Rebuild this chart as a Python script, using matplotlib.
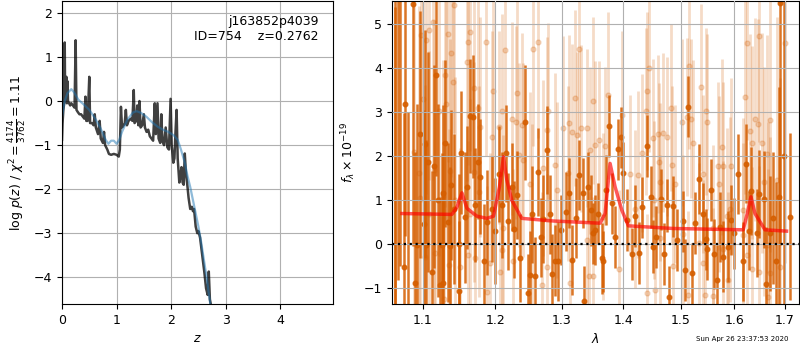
import numpy as np
import matplotlib
matplotlib.use('Agg')
import matplotlib.pyplot as plt
from matplotlib.ticker import NullLocator, FixedLocator, FixedFormatter

plt.rcParams['font.size'] = 9

# --- redshift probability curve (left panel)
z_pz = [0.0, 0.01, 0.025, 0.04, 0.05, 0.058, 0.07, 0.08, 0.09, 0.10,
        0.11, 0.13, 0.15, 0.17, 0.20, 0.23, 0.25, 0.265, 0.29, 0.32,
        0.35, 0.38, 0.41, 0.43, 0.445, 0.47, 0.50, 0.515, 0.55, 0.58,
        0.60, 0.62, 0.66, 0.69, 0.71, 0.75, 0.77, 0.79, 0.83, 0.86,
        0.90, 0.95, 1.00, 1.04, 1.06, 1.08, 1.10, 1.13, 1.15, 1.17,
        1.19, 1.22, 1.26, 1.29, 1.315, 1.33, 1.36, 1.38, 1.40, 1.42,
        1.44, 1.47, 1.50, 1.52, 1.55, 1.58, 1.61, 1.64, 1.67, 1.70,
        1.72, 1.75, 1.77, 1.80, 1.82, 1.84, 1.87, 1.90, 1.93, 1.96,
        1.99, 2.01, 2.04, 2.06, 2.08, 2.10, 2.12, 2.15, 2.17, 2.19,
        2.21, 2.23, 2.25, 2.27, 2.30, 2.32, 2.35, 2.38, 2.40, 2.42,
        2.45, 2.48, 2.50, 2.53, 2.55, 2.58, 2.61, 2.64, 2.67, 2.69,
        2.71, 2.74]
logpz = [-0.88, -0.5, -0.2, -0.05, 1.33, 0.0, 0.15, 0.55, -0.05, 0.45,
         0.0, -0.05, -0.1, -0.05, -0.1, -0.15, 1.38, -0.2, -0.25, -0.3,
         -0.3, -0.35, -0.4, 0.1, -0.45, -0.45, 0.55, -0.5, -0.5, -0.55,
         -0.3, -0.6, -0.75, -0.45, -0.85, -0.95, -0.7, -1.0, -1.1, -1.2,
         -1.22, -1.2, -1.22, -1.26, -1.1, -0.13, -0.6, -0.55, -0.5, -0.2,
         -0.55, -0.45, -0.4, -0.45, 0.25, -0.5, -0.45, -0.1, -0.55, 0.0,
         -0.6, -0.55, -0.3, -0.6, -0.7, -0.65, -0.8, -0.85, -0.9, -0.05,
         -0.75, -0.05, -0.85, -0.95, -0.3, -0.9, -1.0, -0.6, -1.05, -1.1,
         0.05, -1.0, -1.4, -1.3, -0.7, -0.2, -1.3, -1.85, -1.7, -1.5,
         -1.85, -1.9, -1.19, -1.6, -1.95, -2.2, -2.45, -2.4, -2.5, -2.45,
         -2.85, -3.0, -2.95, -3.1, -3.3, -3.6, -3.9, -4.25, -4.4, -3.87,
         -4.5, -4.7]

z_smooth = [0.0, 0.05, 0.10, 0.17, 0.22, 0.30, 0.40, 0.50, 0.60, 0.70,
            0.80, 0.85, 0.90, 0.95, 1.00, 1.05, 1.10, 1.20, 1.30, 1.37,
            1.45, 1.55, 1.65, 1.75, 1.85, 1.95, 2.05, 2.12, 2.18, 2.25,
            2.30, 2.35, 2.40, 2.45, 2.50, 2.55, 2.60, 2.65, 2.70, 2.74]
logpz_smooth = [-0.35, 0.0, 0.18, 0.27, 0.2, 0.03, -0.08, -0.2, -0.38, -0.6,
                -0.88, -0.97, -0.9, -0.9, -0.97, -0.88, -0.7, -0.42, -0.26, -0.23,
                -0.27, -0.36, -0.48, -0.58, -0.65, -0.7, -0.78, -0.88, -1.1, -1.4,
                -1.7, -1.95, -2.25, -2.55, -2.85, -3.2, -3.6, -4.0, -4.45, -4.8]

# --- spectrum (right panel), dark = first beam, light = second beam
dark_wave = [1.0630, 1.0640, 1.0680, 1.0700, 1.0747, 1.0760, 1.0800, 1.0866, 1.0900, 1.0923,
             1.0960, 1.1010, 1.1030, 1.1043, 1.1070, 1.1119, 1.1143, 1.1169, 1.1200, 1.1231,
             1.1253, 1.1266, 1.1273, 1.1302, 1.1340, 1.1367, 1.1376, 1.1420, 1.1481, 1.1490,
             1.1518, 1.1564, 1.1600, 1.1644, 1.1676, 1.1710, 1.1747, 1.1785, 1.1833, 1.1880,
             1.1952, 1.2000, 1.2054, 1.2100, 1.2153, 1.2186, 1.2242, 1.2278, 1.2312, 1.2363,
             1.2444, 1.2478, 1.2514, 1.2549, 1.2584, 1.2637, 1.2675, 1.2715, 1.2768, 1.2818,
             1.2845, 1.2894, 1.2947, 1.2983, 1.3067, 1.3113, 1.3156, 1.3220, 1.3278, 1.3332,
             1.3356, 1.3415, 1.3468, 1.3495, 1.3530, 1.3584, 1.3638, 1.3665, 1.3710, 1.3759,
             1.3804, 1.3859, 1.3914, 1.3953, 1.3998, 1.4054, 1.4139, 1.4196, 1.4270, 1.4321,
             1.4408, 1.4466, 1.4512, 1.4559, 1.4640, 1.4698, 1.4746, 1.4794, 1.4853, 1.4937,
             1.5033, 1.5076, 1.5136, 1.5197, 1.5258, 1.5338, 1.5399, 1.5461, 1.5486, 1.5547,
             1.5610, 1.5660, 1.5720, 1.5787, 1.5882, 1.5926, 1.5990, 1.6073, 1.6157, 1.6222,
             1.6287, 1.6332, 1.6431, 1.6483, 1.6576, 1.6620, 1.6696, 1.6763, 1.6830, 1.6884,
             1.6912, 1.6980, 1.7102]
dark_flux = [5.9, -1.6, 6.2, 6.0, -0.51, 3.20, -2.0, 5.46, -0.89, -0.02,
             2.5, 0.46, 2.28, -0.02, 1.88, -0.64, 1.77, 3.85, 1.0, -0.92,
             -0.02, -0.89, 1.16, 2.30, 0.5, -0.04, 1.35, 0.8, 0.00, -1.06,
             2.08, 0.61, 1.3, 2.92, 2.90, 0.9, 1.88, 1.54, -0.39, 0.5,
             0.80, 0.3, 1.60, 0.9, 2.07, 0.52, 1.31, 0.34, 1.12, -0.30,
             2.77, -1.11, -0.70, 0.68, -0.73, 1.64, 0.16, 0.57, 2.14, 0.68,
             -0.67, -0.37, -0.39, 0.33, 0.74, 1.17, -0.36, 0.6, 1.58, 1.16,
             -1.29, 1.30, 0.77, 0.25, 0.33, 0.70, -0.32, -0.39, 1.23, 2.69,
             0.93, 0.17, 2.16, 2.43, 1.63, 0.55, -0.22, 0.64, -0.20, 0.84,
             2.23, 1.07, -0.05, 0.16, 1.02, -0.22, 0.89, -1.19, 0.86, 0.10,
             0.52, -0.58, 3.13, -0.66, 0.48, 1.48, 0.70, 0.11, -0.11, 1.23,
             -0.22, -0.81, 0.4, -0.28, -0.05, 0.55, 0.25, 1.60, -0.39, 1.83,
             0.31, 1.22, 0.25, 1.14, 1.02, -0.9, 0.25, 0.59, -0.39, 1.07,
             5.49, 2.0, 0.63]
dark_err = [8.0, 7.0, 7.0, 6.5, 3.5, 3.0, 5.0, 5.5, 3.0, 3.2,
            2.8, 2.6, 2.6, 2.4, 2.5, 2.3, 2.3, 2.3, 2.2, 2.0,
            2.1, 2.0, 2.0, 1.9, 1.8, 1.8, 1.7, 1.7, 1.6, 1.6,
            1.4, 1.5, 1.4, 1.3, 1.4, 1.3, 1.3, 1.3, 1.3, 1.2,
            1.2, 1.2, 1.1, 1.2, 1.1, 1.1, 1.0, 1.1, 1.0, 1.0,
            1.3, 0.9, 1.0, 1.1, 0.9, 1.0, 0.9, 1.0, 1.0, 0.9,
            0.9, 0.8, 0.9, 0.8, 0.9, 0.8, 0.8, 0.9, 0.8, 0.8,
            0.8, 0.8, 0.8, 0.7, 0.8, 0.7, 0.8, 0.7, 0.8, 0.7,
            0.7, 0.7, 0.7, 0.7, 0.7, 0.7, 0.6, 0.7, 0.7, 0.7,
            0.7, 0.7, 0.6, 0.7, 0.7, 0.7, 0.6, 0.7, 0.7, 0.7,
            0.7, 0.7, 0.7, 0.7, 0.7, 0.8, 0.7, 0.7, 0.7, 0.7,
            0.8, 0.8, 0.8, 0.8, 0.8, 0.8, 0.8, 0.9, 0.9, 0.9,
            0.9, 1.0, 1.0, 1.0, 1.1, 1.3, 1.3, 1.5, 1.8, 2.5,
            5.5, 5.0, 1.9]

light_wave = [1.0876, 1.0942, 1.0955, 1.0974, 1.0995, 1.1031, 1.1044, 1.1074, 1.1084, 1.1128,
              1.1142, 1.1164, 1.1209, 1.1263, 1.1276, 1.1299, 1.1308, 1.1330, 1.1344, 1.1367,
              1.1380, 1.1404, 1.1412, 1.1432, 1.1504, 1.1592, 1.1606, 1.1612, 1.1634, 1.1645,
              1.1690, 1.1699, 1.1713, 1.1751, 1.1761, 1.1785, 1.1865, 1.1888, 1.1927, 1.1951,
              1.1964, 1.2061, 1.2066, 1.2095, 1.2100, 1.2111, 1.2134, 1.2242, 1.2266, 1.2305,
              1.2325, 1.2354, 1.2390, 1.2414, 1.2514, 1.2540, 1.2564, 1.2640, 1.2692, 1.2707,
              1.2768, 1.2778, 1.2793, 1.2896, 1.2922, 1.3025, 1.3104, 1.3120, 1.3129, 1.3158,
              1.3210, 1.3247, 1.3278, 1.3302, 1.3396, 1.3405, 1.3437, 1.3449, 1.3493, 1.3500,
              1.3531, 1.3601, 1.3656, 1.3694, 1.3749, 1.3932, 1.3976, 1.4111, 1.4195, 1.4253,
              1.4311, 1.4385, 1.4396, 1.4405, 1.4442, 1.4512, 1.4520, 1.4541, 1.4599, 1.4605,
              1.4628, 1.4635, 1.4677, 1.4758, 1.4824, 1.4837, 1.4867, 1.4896, 1.5017, 1.5047,
              1.5117, 1.5134, 1.5148, 1.5179, 1.5226, 1.5337, 1.5363, 1.5400, 1.5412, 1.5444,
              1.5461, 1.5485, 1.5586, 1.5592, 1.5689, 1.5708, 1.5754, 1.5774, 1.5786, 1.5862,
              1.5879, 1.5914, 1.5934, 1.6169, 1.6175, 1.6203, 1.6247, 1.6252, 1.6301, 1.6346,
              1.6352, 1.6399, 1.6465, 1.6484, 1.6490, 1.6531, 1.6577, 1.6643, 1.6662, 1.6668,
              1.6696, 1.6702, 1.6836, 1.6905, 1.7007]
light_flux = [2.11, 1.61, 1.06, 4.76, 3.30, -0.28, 4.64, 0.70, 4.87, 5.06,
              1.69, -0.20, 3.04, 1.10, -1.24, 3.84, 3.20, 4.78, -0.47, 1.67,
              4.34, 3.68, 5.44, 1.01, -0.51, 4.14, 4.61, -0.24, 4.82, 0.70,
              1.65, 3.55, -0.32, 3.11, 1.20, 2.66, 4.61, -1.08, -0.43, 2.45,
              3.49, 2.66, -0.62, 3.04, -0.13, 0.38, 4.42, 2.86, -0.39, 2.77,
              3.43, 2.03, 2.71, 1.92, 1.37, 0.63, 4.43, 4.61, -0.92, 1.73,
              -0.51, 2.61, 3.04, 1.80, 1.23, 2.64, 1.61, 2.75, -0.89, 2.55,
              3.32, 2.48, 4.43, 2.64, 0.10, 2.64, -0.72, 2.14, 3.26, -0.73,
              2.26, 2.37, 0.63, 2.24, 3.39, -0.57, 2.94, 1.60, 0.80, 1.58,
              2.08, 3.02, 3.49, -1.11, 4.00, 2.41, 1.01, -1.04, 2.51, 1.86,
              1.42, 0.14, 2.54, 2.45, 3.11, 1.80, -0.49, 1.37, 2.77, 0.23,
              2.89, -1.15, 4.06, 2.86, 2.30, 0.04, 3.57, -0.43, 1.60, -1.15,
              3.02, 2.77, 0.36, -1.17, 1.78, 1.37, 2.22, 1.78, -0.11, 0.64,
              -0.80, 0.80, 1.77, 0.78, 0.21, 3.34, 4.58, -0.24, 2.58, 2.31,
              -0.55, 2.84, 2.73, 4.73, -0.62, 2.30, 1.42, 2.05, -0.02, -1.19,
              2.83, -0.66, 1.46, -0.52, 4.58]
light_err = [4.2, 3.8, 4.0, 3.8, 3.6, 3.9, 3.5, 3.7, 3.4, 3.6,
             3.4, 3.2, 3.3, 3.1, 3.2, 3.0, 3.2, 2.9, 3.1, 3.0,
             2.8, 3.0, 2.9, 2.8, 2.7, 2.7, 2.8, 2.6, 2.7, 2.6,
             2.5, 2.6, 2.4, 2.5, 2.4, 2.5, 2.6, 2.4, 2.5, 2.4,
             2.3, 2.2, 2.3, 2.2, 2.2, 2.1, 2.3, 2.2, 2.1, 2.2,
             2.2, 2.1, 2.1, 2.2, 2.1, 2.1, 2.2, 2.2, 2.1, 2.0,
             2.1, 2.1, 2.0, 2.1, 2.0, 2.1, 2.0, 2.0, 2.1, 2.0,
             2.0, 1.9, 2.0, 1.9, 1.9, 1.8, 1.9, 1.9, 1.9, 1.8,
             1.9, 1.8, 1.9, 1.8, 1.9, 1.8, 1.9, 1.8, 1.8, 1.9,
             1.8, 1.9, 1.8, 1.8, 1.9, 1.8, 1.8, 1.9, 1.8, 1.8,
             1.8, 1.9, 1.8, 1.8, 1.9, 1.8, 1.8, 1.8, 1.9, 1.8,
             1.8, 1.9, 1.9, 1.8, 1.9, 1.8, 1.9, 1.9, 1.8, 1.9,
             1.9, 2.0, 1.9, 2.0, 1.9, 2.0, 2.0, 1.9, 2.0, 2.0,
             2.0, 2.1, 2.0, 2.1, 2.1, 2.2, 2.2, 2.1, 2.2, 2.2,
             2.3, 2.3, 2.4, 2.4, 2.4, 2.5, 2.6, 2.7, 2.8, 2.9,
             3.0, 3.1, 3.7, 4.3, 5.0]

model_wave = [1.0726, 1.1390, 1.1460, 1.1528, 1.1597, 1.1737, 1.1879, 1.1975, 1.2061, 1.2119,
              1.2168, 1.2241, 1.2389, 1.2871, 1.3612, 1.3695, 1.3777, 1.3860, 1.3972, 1.4084,
              1.4866, 1.6171, 1.6249, 1.6322, 1.6401, 1.6599, 1.7036]
model_flux = [0.70, 0.68, 0.85, 1.17, 0.82, 0.64, 0.59, 0.64, 1.31, 1.99,
              1.46, 1.00, 0.59, 0.53, 0.48, 0.70, 1.84, 1.31, 0.78, 0.42,
              0.36, 0.33, 0.70, 1.08, 0.70, 0.33, 0.30]

grism_color = '#d55e00'

fig = plt.figure(figsize=(8, 3.5), dpi=100)
ax = fig.add_axes([0.0775, 0.131, 0.339, 0.866])
ax2 = fig.add_axes([0.49, 0.131, 0.509, 0.866])

# left: p(z)
ax.plot(z_pz, logpz, color='k', alpha=0.75, lw=1.8)
ax.plot(z_smooth, logpz_smooth, color='tab:blue', alpha=0.5, lw=1.6)
ax.set_xlim(0, 4.97)
ax.set_ylim(-4.61, 2.27)
ax.set_xticks([0, 1, 2, 3, 4])
ax.grid()
ax.set_xlabel('$z$')
ax.set_ylabel(r'log $p(z)$ / $\chi^2=\frac{4174}{3762}=1.11$')
ax.text(0.945, 0.955, 'j163852p4039\nID=754    z=0.2762', transform=ax.transAxes,
        ha='right', va='top', fontsize=9)

# right: spectrum
ax2.errorbar(light_wave, light_flux, yerr=light_err, fmt='o', ms=3.5, color=grism_color,
             alpha=0.22, elinewidth=2.0, capsize=0, zorder=1)
ax2.errorbar(dark_wave, dark_flux, yerr=dark_err, fmt='o', ms=3.3, color=grism_color,
             alpha=0.85, elinewidth=1.8, capsize=0, zorder=2)
ax2.plot(model_wave, model_flux, color='r', alpha=0.65, lw=2.5, zorder=3)
ax2.axhline(0, color='k', ls=':', lw=1.6, zorder=4)
ax2.set_xscale('log')
ax2.set_xlim(1.0598, 1.7297)
ax2.set_ylim(-1.36, 5.53)
xt = [1.1, 1.2, 1.3, 1.4, 1.5, 1.6, 1.7]
ax2.xaxis.set_major_locator(FixedLocator(xt))
ax2.xaxis.set_major_formatter(FixedFormatter(['%.1f' % v for v in xt]))
ax2.xaxis.set_minor_locator(NullLocator())
ax2.set_axisbelow(False)
ax2.grid(zorder=5)
ax2.set_xlabel(r'$\lambda$')
ax2.set_ylabel(r'$f_\lambda \times 10^{-19}$')

fig.text(0.985, 0.022, 'Sun Apr 26 23:37:53 2020', ha='right', va='bottom', fontsize=5)

fig.savefig('out.png', dpi=100)
